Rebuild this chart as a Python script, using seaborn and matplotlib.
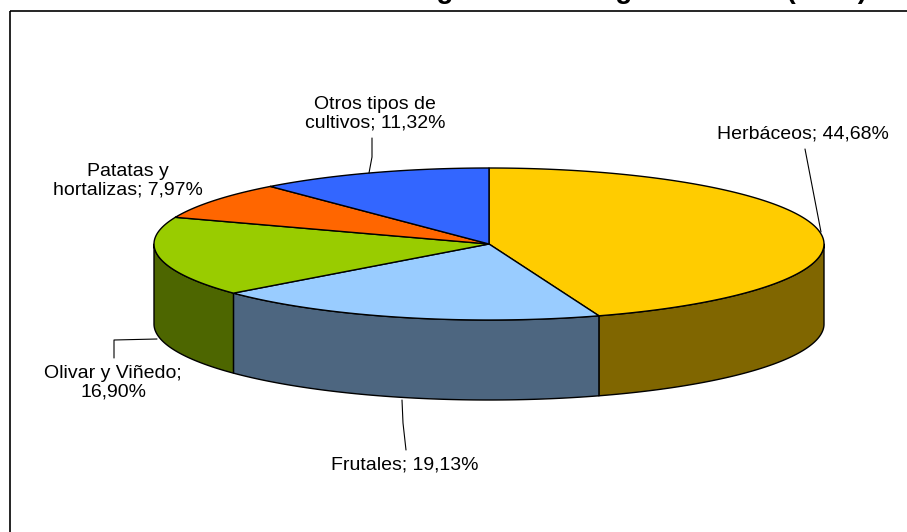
import numpy as np
import matplotlib
matplotlib.use('Agg')
import matplotlib.pyplot as plt
from matplotlib.patches import Polygon, Rectangle
import seaborn as sns

# datos del gráfico
categorias = ['Herbáceos', 'Frutales', 'Olivar y Viñedo', 'Patatas y\nhortalizas', 'Otros tipos de\ncultivos']
porcentajes = [44.68, 19.13, 16.90, 7.97, 11.32]
separadores = ['; ', '; ', ';\n', '; ', '; ']
colores_sup = ['#FFCC00', '#99CCFF', '#99CC00', '#FF6600', '#3366FF']
colores_lado = ['#806600', '#4D6680', '#4D6600', '#803300', '#1A3380']

titulo = 'Distribución del regadío total según cultivos (2005)'

sns.set_theme(style='white')
plt.rcParams['font.family'] = ['Liberation Sans', 'DejaVu Sans']

fig = plt.figure(figsize=(9.07, 5.32), dpi=100)
ax = fig.add_axes([0, 0, 1, 1])
ax.set_xlim(0, 907)
ax.set_ylim(532, 0)
ax.axis('off')

# geometría de la tarta 3D (en píxeles)
cx, cy, ra, rb, prof = 489, 244, 335, 76, 80


def punto(th):
    t = np.radians(th)
    return cx + ra * np.cos(t), cy - rb * np.sin(t)


# ángulos de cada porción (sentido horario desde arriba)
fr = np.array(porcentajes) / sum(porcentajes)
fin = 90 - 360 * np.cumsum(fr)
ini = np.concatenate([[90], fin[:-1]])

# laterales visibles (mitad inferior)
for i in range(len(fr)):
    a0, a1 = ini[i], fin[i]
    lo, hi = max(a1, -180), min(a0, 0)
    if lo >= hi:
        continue
    th = np.linspace(hi, lo, 120)
    xs, ys = punto(th)
    pts = list(zip(xs, ys)) + list(zip(xs[::-1], ys[::-1] + prof))
    ax.add_patch(Polygon(pts, closed=True, facecolor=colores_lado[i],
                         edgecolor='black', linewidth=1.0, joinstyle='round'))

# cara superior
for i in range(len(fr)):
    th = np.linspace(ini[i], fin[i], 200)
    xs, ys = punto(th)
    pts = [(cx, cy)] + list(zip(xs, ys))
    ax.add_patch(Polygon(pts, closed=True, facecolor=colores_sup[i],
                         edgecolor='black', linewidth=1.0, joinstyle='round'))

# etiquetas
etiquetas = [f'{c}{s}{p:.2f}%'.replace('.', ',')
             for c, s, p in zip(categorias, separadores, porcentajes)]
pos_etq = [(803, 134), (405, 465), (113, 383), (128, 181), (375, 114)]
for txt, (x, y) in zip(etiquetas, pos_etq):
    ax.text(x, y, txt, ha='center', va='center', fontsize=14,
            linespacing=1.15, color='black')

# líneas guía
guias = [
    [(805, 149), (821, 232)],
    [(406, 450), (403, 423), (402, 400)],
    [(114, 358), (114, 340), (157, 339)],
    [(372, 138), (372, 157), (369, 173)],
]
for g in guias:
    gx, gy = zip(*g)
    ax.plot(gx, gy, color='black', linewidth=0.8)

# marco del gráfico
ax.add_patch(Rectangle((10, 11), 920, 540, fill=False, edgecolor='black',
                       linewidth=1.2, clip_on=False))

# título (recortado por arriba, como en el original)
ax.text(867, -2.0, titulo, ha='right', va='baseline', fontsize=20,
        fontweight='bold', color='black', clip_on=False)

fig.savefig('out.png', dpi=100)
